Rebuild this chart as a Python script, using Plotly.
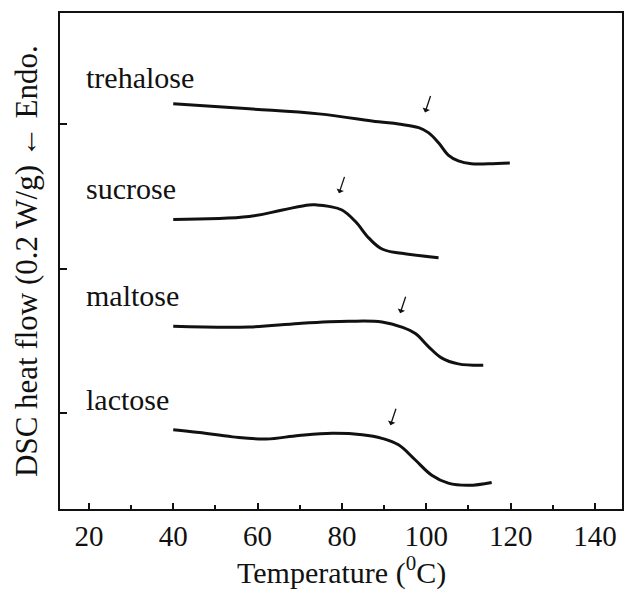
import plotly.graph_objects as go

# ---- data (temperature in °C, heat flow in W/g, arbitrary offset) ----
sugars = ["trehalose", "sucrose", "maltose", "lactose"]

treh_T = [40, 58, 74.5, 88.7, 93.4, 98.2, 100.5, 102.9, 105.2, 107.6, 110.7, 114.7, 119.8]
treh_Q = [0.628, 0.621, 0.614, 0.603, 0.600, 0.595, 0.588, 0.574, 0.557, 0.549, 0.545, 0.545, 0.546]

sucr_T = [40, 58, 65.9, 72.2, 74.0, 76.9, 80.0, 83.2, 86.4, 89.5, 94.2, 102.9]
sucr_Q = [0.468, 0.472, 0.481, 0.488, 0.488, 0.486, 0.481, 0.465, 0.442, 0.427, 0.421, 0.415]

malt_T = [40, 58, 69.8, 81.6, 89.5, 94.2, 97.4, 100.5, 103.7, 107.6, 113.5]
malt_Q = [0.320, 0.319, 0.324, 0.327, 0.326, 0.319, 0.310, 0.292, 0.276, 0.268, 0.266]

lact_T = [40, 46.2, 54.1, 62.0, 69.8, 77.7, 84.8, 89.5, 93.4, 97.4, 101.3, 105.2, 110.0, 115.5]
lact_Q = [0.177, 0.173, 0.167, 0.164, 0.169, 0.172, 0.170, 0.165, 0.156, 0.135, 0.114, 0.103, 0.100, 0.104]

# glass-transition arrow markers
tg_T = [99.7, 79.3, 93.8, 91.5]
tg_Q = [0.616, 0.504, 0.338, 0.183]

# label positions
label_T = [18.8, 18.8, 18.8, 18.8]
label_Q = [0.665, 0.511, 0.362, 0.219]

x_ticks = [20, 40, 60, 80, 100, 120, 140]
x_minor = [30, 50, 70, 90, 110, 130]
y_ticks = [0.2, 0.4, 0.6]

series = [(treh_T, treh_Q), (sucr_T, sucr_Q), (malt_T, malt_Q), (lact_T, lact_Q)]

FONT = "Liberation Serif, Times New Roman, serif"
INK = "#111111"

fig = go.Figure()
for name, (t, q) in zip(sugars, series):
    fig.add_trace(go.Scatter(x=t, y=q, mode="lines", name=name,
                             line=dict(color=INK, width=3, shape="spline", smoothing=1.1),
                             showlegend=False))

for name, lt, lq in zip(sugars, label_T, label_Q):
    fig.add_annotation(x=lt, y=lq, text=name, showarrow=False, xanchor="left", yanchor="middle",
                       font=dict(family=FONT, size=30, color=INK))

for t, q in zip(tg_T, tg_Q):
    fig.add_annotation(x=t, y=q, ax=6, ay=-18, text="", showarrow=True,
                       arrowhead=1, arrowsize=1.0, arrowwidth=1.3, arrowcolor=INK)

fig.add_annotation(xref="paper", yref="paper", x=0, y=0.5, xshift=-34, textangle=-90,
                   text="DSC heat flow (0.2 W/g) \u2190 Endo.", showarrow=False,
                   xanchor="center", yanchor="middle",
                   font=dict(family=FONT, size=31, color=INK))
fig.add_annotation(xref="paper", yref="paper", x=0.5, y=0, yshift=-61,
                   text="Temperature (<sup>0</sup>C)", showarrow=False,
                   xanchor="center", yanchor="middle",
                   font=dict(family=FONT, size=30, color=INK))

fig.update_xaxes(range=[13.15, 146.4], tickvals=x_ticks, ticks="inside", ticklen=6, tickwidth=2,
                 tickcolor=INK, showline=True, linewidth=2, linecolor=INK, mirror=True,
                 showgrid=False, zeroline=False,
                 tickfont=dict(family=FONT, size=29, color=INK),
                 minor=dict(tickvals=x_minor, ticks="inside", ticklen=4,
                            tickwidth=2, tickcolor=INK))
fig.update_yaxes(range=[0.0672, 0.7536], tickvals=y_ticks, ticks="inside", ticklen=7, tickwidth=2,
                 tickcolor=INK, showticklabels=False, showline=True, linewidth=2,
                 linecolor=INK, mirror=True, showgrid=False, zeroline=False)

fig.update_layout(width=626, height=593, margin=dict(l=60, r=2, t=13, b=84),
                  plot_bgcolor="white", paper_bgcolor="white",
                  font=dict(family=FONT, color=INK))

fig.write_html("out.html", config={"displayModeBar": False},
               post_script="document.body.style.margin='0';document.body.style.overflow='hidden';")
